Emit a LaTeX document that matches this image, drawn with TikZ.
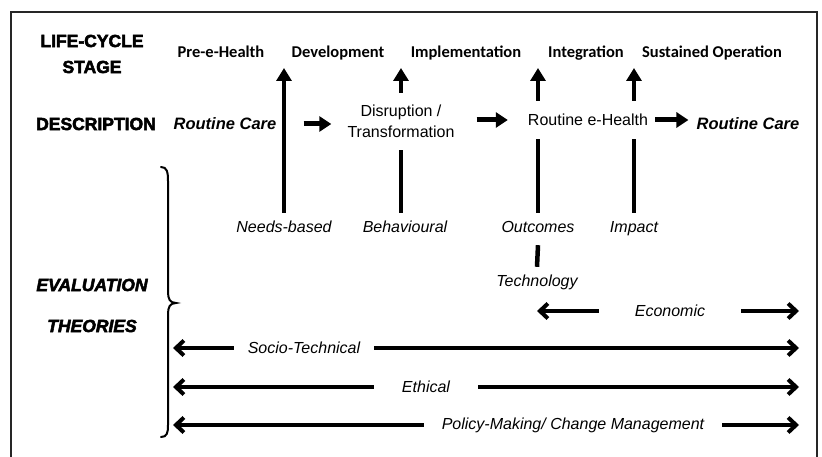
\documentclass[tikz,border=0pt]{standalone}
\usepackage{fontspec}
\setmainfont{Liberation Sans}
\newfontfamily\stagefont{Carlito}
\newfontfamily\heavyfont{Liberation Sans Bold}[FakeBold=3,
  ItalicFont={Liberation Sans Bold Italic}, ItalicFeatures={FakeBold=3}]
\usetikzlibrary{arrows.meta}

\tikzset{
  rowhead/.style={font=\heavyfont\fontsize{17.5}{26}\selectfont, align=center, inner sep=0pt},
  stagelabel/.style={font=\stagefont\bfseries\fontsize{16.5}{18}\selectfont, inner sep=0pt, anchor=base},
  desc/.style={font=\fontsize{16}{21}\selectfont, align=center, inner sep=0pt},
  careitem/.style={font=\bfseries\itshape\fontsize{16.5}{19}\selectfont, inner sep=0pt},
  theory/.style={font=\itshape\fontsize{16}{19}\selectfont, text height=12pt, text depth=4pt,
    inner xsep=0pt, inner ysep=8pt},
  spanlabel/.style={font=\itshape\fontsize{16}{19}\selectfont, inner sep=0pt},
  risearrow/.style={line width=4.5pt, -{Triangle[length=13pt,width=15pt]}},
  riseline/.style={line width=4.5pt},
  flowarrow/.style={line width=5pt, -{Triangle[length=12pt,width=15pt]}},
  spanarrow/.style={line width=4pt, -{Straight Barb[length=8pt,width=15pt]}},
  frameline/.style={line width=2pt, draw=black!85},
}

\begin{document}
\begin{tikzpicture}[x=1pt, y=-1pt, line join=miter]
\useasboundingbox (0,0) rectangle (822,457);

% outer frame (open at the bottom edge)
\draw[frameline] (11,470) -- (11,12) -- (817,12) -- (817,470);

% row headings
\node[rowhead] (lifecycle) at (92,54) {LIFE-CYCLE\\STAGE};
\node[rowhead] (description) at (96,124) {DESCRIPTION};
\node[rowhead, font=\heavyfont\itshape\fontsize{17.5}{41}\selectfont] (evaluation) at (92,305.5) {EVALUATION\\THEORIES};

% life-cycle stages
\node[stagelabel] (pre) at (221,58) {Pre-e-Health};
\node[stagelabel] (dev) at (338,58) {Development};
\node[stagelabel] (impl) at (466,58) {Implementation};
\node[stagelabel] (integ) at (586,58) {Integration};
\node[stagelabel] (sust) at (712,58) {Sustained Operation};

% descriptions
\node[careitem] (care1) at (225,124) {Routine Care};
\node[desc, minimum height=57pt] (disr) at (401,121.5) {Disruption /\\Transformation};
\node[desc, minimum height=38pt] (routine) at (588,120) {Routine e-Health};
\node[careitem] (care2) at (748,124) {Routine Care};

\draw[flowarrow, shorten <=27pt, shorten >=16pt] (care1.east) -- (care1.east -| disr.west);
\draw[flowarrow, shorten <=22pt, shorten >=20pt] (disr.east |- routine) -- (routine.west);
\draw[flowarrow, shorten <=7pt, shorten >=8pt] (routine.east) -- (routine.east -| care2.west);

% evaluation theories feeding the stages
\node[theory] (needs) at (284,229) {Needs-based};
\node[theory] (behav) at (405,229) {Behavioural};
\node[theory] (outc) at (538,229) {Outcomes};
\node[theory] (impact) at (634,229) {Impact};
\node[theory] (tech) at (537,283) {Technology};

\coordinate (tipA) at (284,68);
\coordinate (tipB) at (401,68);
\coordinate (tipC) at (538,68);
\coordinate (tipD) at (634,68);

\draw[risearrow] (needs.north) -- (tipA);
\draw[riseline] (behav.north -| disr.south) -- (disr.south);
\draw[risearrow] (disr.north) -- (tipB);
\draw[riseline] (outc.north) -- (outc.north |- routine.south);
\draw[risearrow] (outc.north |- routine.north) -- (tipC);
\draw[riseline] (impact.north) -- (impact.north |- routine.south);
\draw[risearrow] (impact.north |- routine.north) -- (tipD);
\draw[riseline] (tech.north) -- (outc.south);

% brace grouping the theories
\draw[line width=2pt, line cap=round]
  (161,167) .. controls (167,167) and (168,172) .. (168,181)
  -- (168,292) .. controls (168,299) and (170,303) .. (176,303)
  .. controls (170,303) and (168,307) .. (168,314)
  -- (168,425) .. controls (168,433) and (167,437) .. (161,437);

% theories spanning the life-cycle
\node[spanlabel] (econ) at (670,311) {Economic};
\node[spanlabel] (socio) at (304,348) {Socio-Technical};
\node[spanlabel] (ethic) at (426,387) {Ethical};
\node[spanlabel] (policy) at (573,425) {Policy-Making/ Change Management};

\coordinate (econL) at (537,311);
\coordinate (econR) at (799,311);
\coordinate (socioL) at (173,348);
\coordinate (socioR) at (799,348);
\coordinate (ethicL) at (173,387);
\coordinate (ethicR) at (799,387);
\coordinate (policyL) at (173,425);
\coordinate (policyR) at (799,425);

\draw[spanarrow, shorten <=36pt] (econ.west) -- (econL);
\draw[spanarrow, shorten <=36pt] (econ.east) -- (econR);
\draw[spanarrow, shorten <=14pt] (socio.west) -- (socioL);
\draw[spanarrow, shorten <=14pt] (socio.east) -- (socioR);
\draw[spanarrow, shorten <=28pt] (ethic.west) -- (ethicL);
\draw[spanarrow, shorten <=28pt] (ethic.east) -- (ethicR);
\draw[spanarrow, shorten <=18pt] (policy.west) -- (policyL);
\draw[spanarrow, shorten <=18pt] (policy.east) -- (policyR);
\end{tikzpicture}
\end{document}
